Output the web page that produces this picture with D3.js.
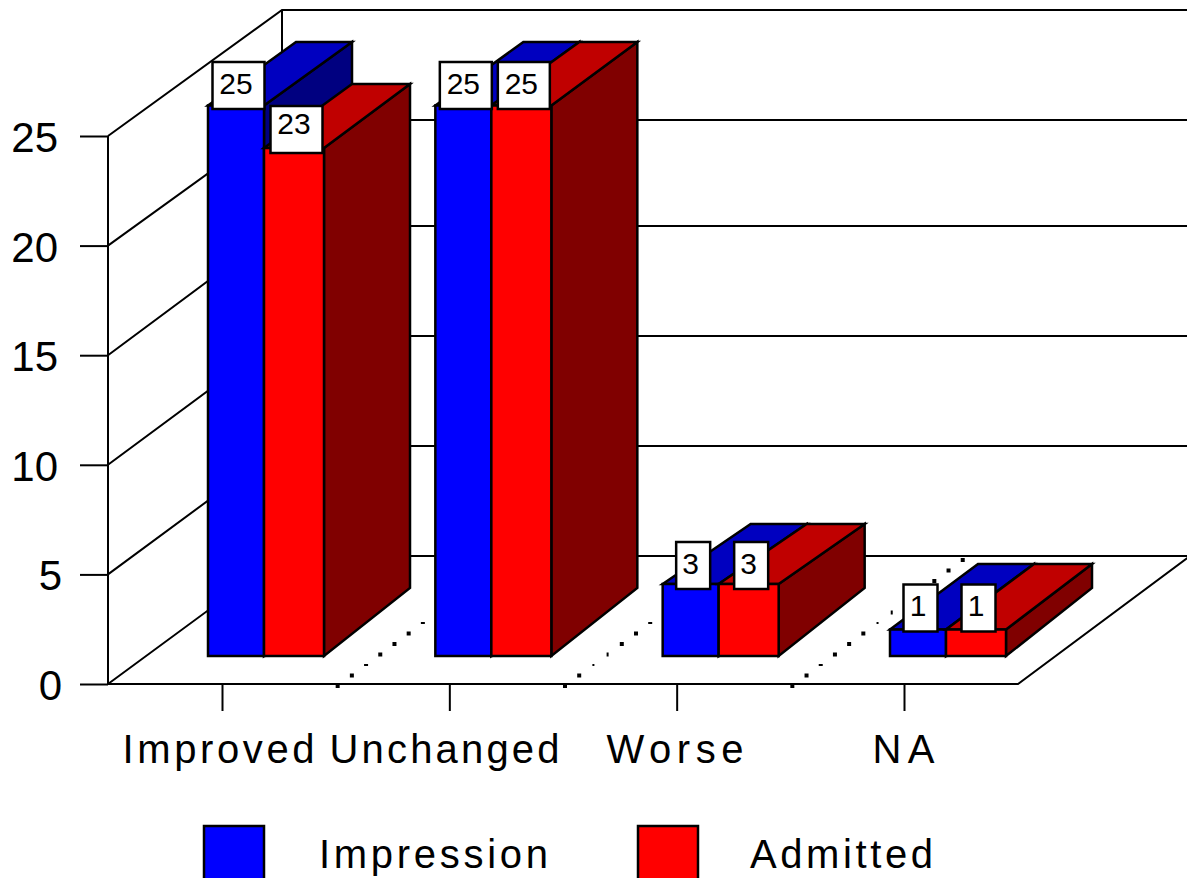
<!DOCTYPE html>
<html>
<head>
<meta charset="utf-8">
<script src="https://cdn.jsdelivr.net/npm/d3@7"></script>
<style>
body { margin: 0; background: #fff; }
svg { display: block; }
text { font-family: "Liberation Sans", Arial, sans-serif; fill: #000; }
</style>
</head>
<body>
<svg id="chart" width="1187" height="878"></svg>
<script>
let categories = ['Improved', 'Unchanged', 'Worse', 'NA'];
let seriesNames = ['Impression', 'Admitted'];
let impression = [25, 25, 3, 1];
let admitted = [23, 25, 3, 1];
let yTicks = [0, 5, 10, 15, 20, 25];
let frontColors = ['#0000ff', '#ff0000'];
let topColors = ['#0000c0', '#c00000'];
let sideColors = ['#000080', '#800000'];
// size of the little floor dots, they come out uneven in the original
let dotSizes = [
    [[4,4],[4,4],[4,2],[4,4],[4,4],[4,4],[4,2],[4,4],[4,4],[4,4],[4,4],[4,4],[4,4]],
    [[4,4],[4,4],[2,2],[2,4],[4,4],[4,4],[4,2],[4,4],[4,4],[4,4],[4,4],[4,4],[4,4]],
    [[4,4],[4,4],[4,2],[4,4],[4,4],[4,4],[2,2],[2,4],[4,4],[4,4],[4,4],[4,4],[4,4]]
];
// text is spaced out unevenly in the original, so each label gets its own span
let categoryLeft = [122, 329, 606, 872];
let categoryWidth = [192, 230, 137, 62];
let legendLeft = [319, 750];
let legendWidth = [229, 183];

let svg = d3.select('#chart');
let wallDepthX = 174;

let yFront = d3.scaleLinear().domain([0, 25]).range([684, 136]);
let yBack = d3.scaleLinear().domain(yTicks).range([556, 446, 336, 226, 120, 10]);
// the bars sit forward of the wall, the original does not scale them quite linearly
let barKnots = [0, 1, 3, 23, 25];
let yBar = d3.scaleLinear().domain(barKnots).range([656, 629.5, 584, 148, 105.5]);
let yBarBack = d3.scaleLinear().domain(barKnots).range([588, 564, 524, 84, 42]);
let yLabelBox = d3.scaleLinear().domain(barKnots).range([610, 584.5, 542, 106, 62]);
let yLabelText = d3.scaleLinear().domain(barKnots).range([642, 616, 574, 134, 94]);
let xTick = d3.scalePoint().domain(categories).range([222, 904]);
let xEdge = d3.scaleLinear().domain([0, 1, 2]).range([-14, 42, 102]);
let edgeDepth = [88, 88, 86];

function pts(list) {
    return list.map(p => p.join(',')).join(' ');
}

// walls and floor
let wall = svg.append('g').attr('fill', 'none').attr('stroke', '#000').attr('stroke-width', 2);
yTicks.forEach(v => {
    wall.append('polyline').attr('points', pts([
        [108, yFront(v)],
        [108 + wallDepthX, yBack(v)],
        [1187, yBack(v)]
    ]));
});
wall.append('line').attr('x1', 108).attr('x2', 108).attr('y1', yFront(25)).attr('y2', yFront(0));
wall.append('line').attr('x1', 108 + wallDepthX).attr('x2', 108 + wallDepthX).attr('y1', yBack(25)).attr('y2', yBack(0));
wall.append('polyline').attr('points', pts([
    [108, yFront(0)],
    [1018, yFront(0)],
    [1190, yBack(0)]
]));

// axes
let yAxis = d3.axisLeft(yFront).tickValues(yTicks).tickSize(28);
let yG = svg.append('g').attr('transform', 'translate(108,0)').call(yAxis);
yG.select('.domain').remove();
yG.selectAll('line').attr('stroke', '#000').attr('stroke-width', 2);
yG.selectAll('text')
    .attr('font-size', 42)
    .attr('dy', 0)
    .attr('y', 15.5)
    .attr('x', d => d >= 10 ? -50 : -46)
    .style('font-family', '"Liberation Sans", Arial, sans-serif');

let xAxis = d3.axisBottom(xTick).tickSize(27);
let xG = svg.append('g').attr('transform', `translate(0,${yFront(0)})`).call(xAxis);
xG.select('.domain').remove();
xG.selectAll('line').attr('stroke', '#000').attr('stroke-width', 2);
xG.selectAll('text')
    .attr('font-size', 40)
    .attr('dy', 0)
    .attr('y', 79)
    .attr('text-anchor', 'start')
    .attr('x', (d, i) => categoryLeft[i] - xTick(d))
    .attr('textLength', (d, i) => categoryWidth[i])
    .attr('lengthAdjust', 'spacing')
    .style('font-family', '"Liberation Sans", Arial, sans-serif');

// dotted floor lines between the categories
dotSizes.forEach((row, g) => {
    let xStart = (xTick(categories[g]) + xTick(categories[g + 1])) / 2 + 2;
    svg.append('g').selectAll('rect')
        .data(row)
        .join('rect')
        .attr('x', (d, i) => xStart + i * 14.2 - d[0] / 2)
        .attr('y', (d, i) => yFront(0) + 2 - i * 10.5 - d[1] / 2)
        .attr('width', d => d[0])
        .attr('height', d => d[1])
        .attr('fill', '#000');
});

// bars
let barValues = [impression, admitted];
let bars = svg.append('g').attr('stroke', '#000').attr('stroke-width', 2.5).attr('stroke-linejoin', 'miter');
categories.forEach((cat, c) => {
    seriesNames.forEach((name, s) => {
        let v = barValues[s][c];
        let x0 = xTick(cat) + xEdge(s);
        let x1 = xTick(cat) + xEdge(s + 1);
        let bx0 = x0 + edgeDepth[s];
        let bx1 = x1 + edgeDepth[s + 1];
        let yTop = yBar(v);
        let yBase = yBar(0);
        let g = bars.append('g').attr('class', 'bar');
        g.append('polygon').attr('fill', sideColors[s]).attr('points', pts([
            [x1, yTop], [bx1, yBarBack(v)], [bx1, yBarBack(0)], [x1, yBase]
        ]));
        g.append('polygon').attr('fill', topColors[s]).attr('points', pts([
            [x0, yTop], [bx0, yBarBack(v)], [bx1, yBarBack(v)], [x1, yTop]
        ]));
        g.append('rect').attr('fill', frontColors[s])
            .attr('x', x0).attr('y', yTop)
            .attr('width', x1 - x0).attr('height', yBase - yTop);
    });
});

// value labels
let labels = svg.append('g');
categories.forEach((cat, c) => {
    seriesNames.forEach((name, s) => {
        let v = barValues[s][c];
        let cx = xTick(cat) + (xEdge(s) + xEdge(s + 1)) / 2 + 2.5;
        let w = String(v).length > 1 ? 52 : 34;
        labels.append('rect')
            .attr('x', cx - w / 2).attr('y', yLabelBox(v))
            .attr('width', w).attr('height', 47)
            .attr('fill', '#fff').attr('stroke', '#000').attr('stroke-width', 2.5);
        labels.append('text')
            .attr('x', cx - 2.5).attr('y', yLabelText(v))
            .attr('text-anchor', 'middle')
            .attr('font-size', 30)
            .text(v);
    });
});

// legend
let xLegend = d3.scaleOrdinal().domain(seriesNames).range([204, 638]);
seriesNames.forEach((name, s) => {
    svg.append('rect')
        .attr('x', xLegend(name)).attr('y', 826)
        .attr('width', 60).attr('height', 70)
        .attr('fill', frontColors[s]).attr('stroke', '#000').attr('stroke-width', 2.5);
    svg.append('text')
        .attr('x', legendLeft[s]).attr('y', 868)
        .attr('font-size', 40)
        .attr('textLength', legendWidth[s])
        .attr('lengthAdjust', 'spacing')
        .text(name);
});
</script>
</body>
</html>
